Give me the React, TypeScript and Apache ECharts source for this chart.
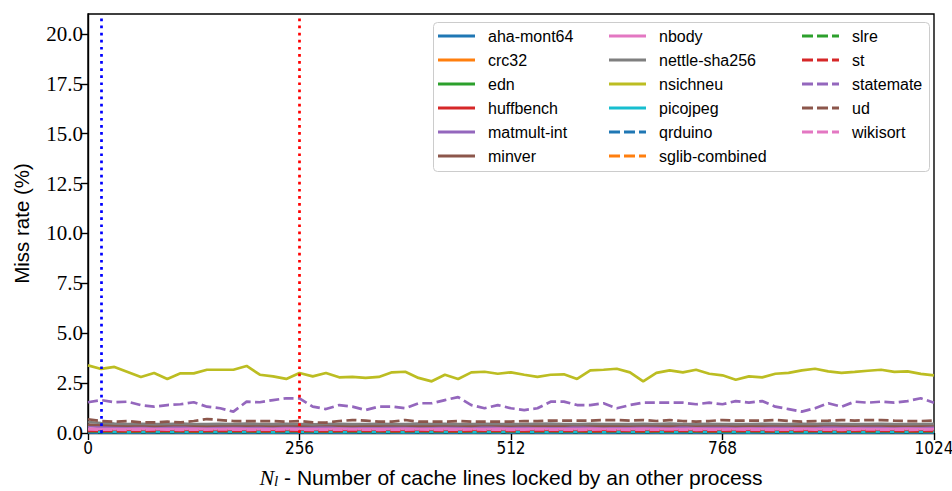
import React, { useEffect, useRef } from "react";
import * as echarts from "echarts";

// N_l values (x axis)
const nl = [
  0, 16, 32, 48, 64, 80, 96, 112, 128, 144, 160, 176, 192,
  208, 224, 240, 256, 272, 288, 304, 320, 336, 352, 368, 384, 400,
  416, 432, 448, 464, 480, 496, 512, 528, 544, 560, 576, 592, 608,
  624, 640, 656, 672, 688, 704, 720, 736, 752, 768, 784, 800, 816,
  832, 848, 864, 880, 896, 912, 928, 944, 960, 976, 992, 1008, 1024,
];

const ahaMont64 = [
  0.07, 0.06, 0.06, 0.05, 0.06, 0.06, 0.05, 0.06, 0.06, 0.07, 0.06, 0.05, 0.06,
  0.06, 0.05, 0.06, 0.06, 0.07, 0.06, 0.06, 0.05, 0.06, 0.06, 0.05, 0.06, 0.06,
  0.05, 0.06, 0.06, 0.07, 0.06, 0.05, 0.06, 0.06, 0.05, 0.06, 0.07, 0.06, 0.06,
  0.06, 0.06, 0.05, 0.06, 0.06, 0.07, 0.06, 0.05, 0.06, 0.06, 0.06, 0.05, 0.06,
  0.06, 0.07, 0.06, 0.06, 0.05, 0.06, 0.06, 0.06, 0.07, 0.06, 0.05, 0.06, 0.06,
];
const crc32 = [
  0.16, 0.15, 0.14, 0.15, 0.15, 0.14, 0.15, 0.16, 0.15, 0.14, 0.15, 0.15, 0.16,
  0.15, 0.14, 0.15, 0.15, 0.16, 0.15, 0.14, 0.15, 0.15, 0.14, 0.16, 0.15, 0.15,
  0.14, 0.15, 0.16, 0.15, 0.15, 0.14, 0.15, 0.15, 0.16, 0.15, 0.14, 0.15, 0.15,
  0.15, 0.16, 0.15, 0.14, 0.15, 0.15, 0.16, 0.15, 0.14, 0.15, 0.15, 0.16, 0.15,
  0.15, 0.14, 0.15, 0.16, 0.15, 0.15, 0.14, 0.15, 0.15, 0.16, 0.15, 0.14, 0.15,
];
const edn = [
  0.12, 0.11, 0.11, 0.10, 0.11, 0.12, 0.11, 0.10, 0.11, 0.11, 0.12, 0.11, 0.10,
  0.11, 0.11, 0.12, 0.11, 0.10, 0.11, 0.11, 0.12, 0.11, 0.10, 0.11, 0.11, 0.12,
  0.11, 0.10, 0.11, 0.12, 0.11, 0.11, 0.10, 0.11, 0.12, 0.11, 0.11, 0.10, 0.11,
  0.12, 0.11, 0.10, 0.11, 0.11, 0.12, 0.11, 0.10, 0.11, 0.11, 0.12, 0.11, 0.11,
  0.10, 0.11, 0.12, 0.11, 0.11, 0.10, 0.11, 0.12, 0.11, 0.11, 0.10, 0.11, 0.12,
];
const huffbench = [
  0.13, 0.12, 0.12, 0.11, 0.12, 0.13, 0.12, 0.12, 0.11, 0.12, 0.13, 0.12, 0.12,
  0.11, 0.12, 0.12, 0.13, 0.12, 0.11, 0.12, 0.12, 0.13, 0.12, 0.12, 0.11, 0.12,
  0.12, 0.13, 0.12, 0.12, 0.11, 0.12, 0.13, 0.12, 0.12, 0.11, 0.12, 0.12, 0.13,
  0.12, 0.11, 0.12, 0.13, 0.12, 0.12, 0.11, 0.12, 0.12, 0.13, 0.12, 0.11, 0.12,
  0.13, 0.12, 0.11, 0.12, 0.12, 0.13, 0.12, 0.12, 0.11, 0.12, 0.13, 0.12, 0.12,
];
const matmultInt = [
  0.34, 0.31, 0.30, 0.29, 0.31, 0.30, 0.28, 0.30, 0.31, 0.29, 0.30, 0.31, 0.29,
  0.30, 0.28, 0.31, 0.30, 0.29, 0.31, 0.30, 0.29, 0.28, 0.30, 0.31, 0.30, 0.29,
  0.31, 0.30, 0.29, 0.30, 0.31, 0.28, 0.30, 0.29, 0.31, 0.30, 0.29, 0.30, 0.31,
  0.29, 0.30, 0.31, 0.30, 0.28, 0.30, 0.29, 0.31, 0.30, 0.29, 0.30, 0.31, 0.30,
  0.29, 0.31, 0.30, 0.28, 0.30, 0.31, 0.29, 0.30, 0.31, 0.30, 0.29, 0.30, 0.31,
];
const minver = [
  0.42, 0.40, 0.38, 0.37, 0.39, 0.36, 0.38, 0.40, 0.37, 0.36, 0.38, 0.39, 0.37,
  0.38, 0.36, 0.39, 0.37, 0.38, 0.40, 0.37, 0.36, 0.38, 0.37, 0.39, 0.38, 0.36,
  0.37, 0.39, 0.38, 0.36, 0.40, 0.38, 0.37, 0.39, 0.36, 0.38, 0.37, 0.40, 0.38,
  0.36, 0.38, 0.37, 0.39, 0.38, 0.36, 0.40, 0.37, 0.38, 0.39, 0.36, 0.38, 0.37,
  0.39, 0.38, 0.36, 0.37, 0.40, 0.38, 0.37, 0.39, 0.38, 0.36, 0.38, 0.37, 0.39,
];
const nbody = [
  0.22, 0.20, 0.19, 0.20, 0.21, 0.19, 0.20, 0.20, 0.21, 0.19, 0.20, 0.21, 0.20,
  0.19, 0.20, 0.21, 0.20, 0.19, 0.20, 0.21, 0.20, 0.19, 0.20, 0.20, 0.21, 0.19,
  0.20, 0.21, 0.19, 0.20, 0.20, 0.21, 0.19, 0.20, 0.21, 0.20, 0.19, 0.20, 0.21,
  0.20, 0.19, 0.20, 0.21, 0.20, 0.19, 0.20, 0.21, 0.20, 0.20, 0.19, 0.21, 0.20,
  0.19, 0.20, 0.21, 0.20, 0.19, 0.20, 0.21, 0.20, 0.19, 0.20, 0.21, 0.20, 0.20,
];
const nettleSha256 = [
  0.55, 0.50, 0.47, 0.45, 0.46, 0.44, 0.45, 0.47, 0.45, 0.44, 0.46, 0.45, 0.47,
  0.45, 0.44, 0.46, 0.45, 0.43, 0.45, 0.46, 0.44, 0.45, 0.46, 0.45, 0.44, 0.47,
  0.45, 0.46, 0.44, 0.45, 0.46, 0.45, 0.44, 0.45, 0.46, 0.47, 0.45, 0.44, 0.46,
  0.45, 0.45, 0.44, 0.46, 0.45, 0.47, 0.45, 0.44, 0.46, 0.45, 0.44, 0.45, 0.46,
  0.45, 0.44, 0.46, 0.45, 0.47, 0.45, 0.44, 0.45, 0.46, 0.45, 0.44, 0.45, 0.46,
];
const nsichneu = [
  3.39, 3.21, 3.31, 3.06, 2.81, 3.01, 2.71, 2.99, 2.99, 3.17, 3.17, 3.17, 3.36,
  2.92, 2.84, 2.71, 3.01, 2.84, 3.01, 2.79, 2.81, 2.76, 2.81, 3.04, 3.07, 2.76,
  2.59, 2.92, 2.71, 3.04, 3.07, 2.97, 3.04, 2.92, 2.81, 2.92, 2.94, 2.71, 3.14,
  3.17, 3.22, 3.04, 2.59, 3.01, 3.14, 3.04, 3.17, 2.97, 2.89, 2.67, 2.84, 2.79,
  2.97, 3.01, 3.14, 3.22, 3.09, 3.01, 3.06, 3.12, 3.17, 3.06, 3.09, 2.96, 2.89,
];
const picojpeg = [
  0.05, 0.04, 0.04, 0.03, 0.04, 0.04, 0.05, 0.04, 0.03, 0.04, 0.04, 0.05, 0.04,
  0.04, 0.03, 0.04, 0.05, 0.04, 0.04, 0.03, 0.04, 0.04, 0.05, 0.04, 0.03, 0.04,
  0.04, 0.05, 0.04, 0.03, 0.04, 0.04, 0.05, 0.04, 0.04, 0.03, 0.04, 0.05, 0.04,
  0.03, 0.04, 0.04, 0.05, 0.04, 0.03, 0.04, 0.04, 0.05, 0.04, 0.04, 0.03, 0.04,
  0.05, 0.04, 0.03, 0.04, 0.04, 0.05, 0.04, 0.03, 0.04, 0.04, 0.05, 0.04, 0.04,
];
const qrduino = [
  0.03, 0.02, 0.03, 0.03, 0.02, 0.03, 0.03, 0.02, 0.03, 0.03, 0.02, 0.03, 0.03,
  0.02, 0.03, 0.03, 0.02, 0.03, 0.03, 0.02, 0.03, 0.03, 0.02, 0.03, 0.03, 0.02,
  0.03, 0.03, 0.02, 0.03, 0.03, 0.02, 0.03, 0.03, 0.02, 0.03, 0.03, 0.02, 0.03,
  0.03, 0.02, 0.03, 0.03, 0.02, 0.03, 0.03, 0.02, 0.03, 0.03, 0.02, 0.03, 0.03,
  0.02, 0.03, 0.03, 0.02, 0.03, 0.03, 0.02, 0.03, 0.03, 0.02, 0.03, 0.03, 0.02,
];
const sglibCombined = [
  0.14, 0.13, 0.13, 0.12, 0.13, 0.14, 0.13, 0.12, 0.13, 0.13, 0.14, 0.13, 0.12,
  0.13, 0.14, 0.13, 0.13, 0.12, 0.13, 0.14, 0.13, 0.13, 0.12, 0.13, 0.13, 0.14,
  0.13, 0.12, 0.13, 0.14, 0.13, 0.13, 0.12, 0.13, 0.14, 0.13, 0.12, 0.13, 0.13,
  0.14, 0.13, 0.12, 0.13, 0.13, 0.14, 0.13, 0.12, 0.13, 0.14, 0.13, 0.13, 0.12,
  0.13, 0.13, 0.14, 0.13, 0.12, 0.13, 0.13, 0.14, 0.13, 0.12, 0.13, 0.14, 0.13,
];
const slre = [
  0.09, 0.08, 0.08, 0.07, 0.08, 0.09, 0.08, 0.08, 0.07, 0.08, 0.09, 0.08, 0.08,
  0.07, 0.08, 0.09, 0.08, 0.08, 0.07, 0.08, 0.09, 0.08, 0.08, 0.07, 0.08, 0.09,
  0.08, 0.08, 0.07, 0.08, 0.09, 0.08, 0.08, 0.07, 0.08, 0.09, 0.08, 0.08, 0.07,
  0.08, 0.09, 0.08, 0.07, 0.08, 0.08, 0.09, 0.08, 0.07, 0.08, 0.08, 0.09, 0.08,
  0.07, 0.08, 0.08, 0.09, 0.08, 0.07, 0.08, 0.08, 0.09, 0.08, 0.07, 0.08, 0.08,
];
const st = [
  0.11, 0.10, 0.10, 0.09, 0.10, 0.11, 0.10, 0.10, 0.09, 0.10, 0.11, 0.10, 0.10,
  0.09, 0.10, 0.11, 0.10, 0.10, 0.09, 0.10, 0.11, 0.10, 0.10, 0.09, 0.10, 0.11,
  0.10, 0.10, 0.09, 0.10, 0.11, 0.10, 0.10, 0.09, 0.10, 0.11, 0.10, 0.10, 0.09,
  0.10, 0.11, 0.10, 0.09, 0.10, 0.10, 0.11, 0.10, 0.09, 0.10, 0.10, 0.11, 0.10,
  0.09, 0.10, 0.10, 0.11, 0.10, 0.09, 0.10, 0.10, 0.11, 0.10, 0.09, 0.10, 0.10,
];
const statemate = [
  1.54, 1.65, 1.54, 1.57, 1.40, 1.32, 1.40, 1.44, 1.54, 1.32, 1.24, 1.07, 1.57,
  1.54, 1.65, 1.74, 1.74, 1.32, 1.20, 1.40, 1.32, 1.15, 1.32, 1.32, 1.24, 1.49,
  1.49, 1.65, 1.80, 1.40, 1.24, 1.40, 1.24, 1.15, 1.24, 1.57, 1.57, 1.40, 1.40,
  1.49, 1.24, 1.40, 1.52, 1.52, 1.52, 1.52, 1.44, 1.52, 1.44, 1.60, 1.52, 1.60,
  1.32, 1.20, 1.07, 1.24, 1.49, 1.32, 1.57, 1.52, 1.57, 1.52, 1.60, 1.74, 1.52,
];
const ud = [
  0.69, 0.60, 0.57, 0.60, 0.53, 0.53, 0.57, 0.53, 0.60, 0.70, 0.65, 0.60, 0.60,
  0.60, 0.60, 0.57, 0.60, 0.53, 0.52, 0.60, 0.65, 0.62, 0.57, 0.57, 0.65, 0.57,
  0.57, 0.57, 0.60, 0.57, 0.57, 0.57, 0.57, 0.60, 0.60, 0.62, 0.62, 0.62, 0.62,
  0.65, 0.65, 0.62, 0.65, 0.60, 0.65, 0.60, 0.57, 0.60, 0.65, 0.62, 0.62, 0.62,
  0.65, 0.60, 0.57, 0.60, 0.62, 0.65, 0.62, 0.65, 0.65, 0.62, 0.60, 0.60, 0.62,
];
const wikisort = [
  0.18, 0.17, 0.17, 0.16, 0.17, 0.18, 0.17, 0.16, 0.17, 0.17, 0.18, 0.17, 0.16,
  0.17, 0.17, 0.18, 0.17, 0.16, 0.17, 0.17, 0.18, 0.17, 0.16, 0.17, 0.17, 0.18,
  0.17, 0.16, 0.17, 0.18, 0.17, 0.17, 0.16, 0.17, 0.18, 0.17, 0.17, 0.16, 0.17,
  0.18, 0.17, 0.16, 0.17, 0.17, 0.18, 0.17, 0.16, 0.17, 0.17, 0.18, 0.17, 0.17,
  0.16, 0.17, 0.18, 0.17, 0.17, 0.16, 0.17, 0.18, 0.17, 0.17, 0.16, 0.17, 0.18,
];

const yTicks = [0, 2.5, 5, 7.5, 10, 12.5, 15, 17.5, 20];
const lockedMarkers = [16, 256];

const benchmarks = [
  { name: "aha-mont64", data: ahaMont64, color: "#1f77b4", dashed: false },
  { name: "crc32", data: crc32, color: "#ff7f0e", dashed: false },
  { name: "edn", data: edn, color: "#2ca02c", dashed: false },
  { name: "huffbench", data: huffbench, color: "#d62728", dashed: false },
  { name: "matmult-int", data: matmultInt, color: "#9467bd", dashed: false },
  { name: "minver", data: minver, color: "#8c564b", dashed: false },
  { name: "nbody", data: nbody, color: "#e377c2", dashed: false },
  { name: "nettle-sha256", data: nettleSha256, color: "#7f7f7f", dashed: false },
  { name: "nsichneu", data: nsichneu, color: "#bcbd22", dashed: false },
  { name: "picojpeg", data: picojpeg, color: "#17becf", dashed: false },
  { name: "qrduino", data: qrduino, color: "#1f77b4", dashed: true },
  { name: "sglib-combined", data: sglibCombined, color: "#ff7f0e", dashed: true },
  { name: "slre", data: slre, color: "#2ca02c", dashed: true },
  { name: "st", data: st, color: "#d62728", dashed: true },
  { name: "statemate", data: statemate, color: "#9467bd", dashed: true },
  { name: "ud", data: ud, color: "#8c564b", dashed: true },
  { name: "wikisort", data: wikisort, color: "#e377c2", dashed: true },
];

const SOLID_ICON = "path://M0,0h37v3h-37z";
const DASHED_ICON = "path://M0,0h11v3h-11z M15,0h11v3h-11z M30,0h7v3h-7z";

export default function App() {
  const ref = useRef<HTMLDivElement>(null);

  useEffect(() => {
    const chart = echarts.init(ref.current!, null, { renderer: "svg" });
    const last = benchmarks.length - 1;
    const series: any[] = benchmarks.map((b, i) => ({
      type: "line",
      name: b.name,
      data: nl.map((x, k) => [x, b.data[k]]),
      symbol: "none",
      showSymbol: false,
      color: b.color,
      itemStyle: { color: b.color },
      lineStyle: { color: b.color, width: 2.7, type: b.dashed ? [10, 4.4] : "solid" },
      emphasis: { disabled: true },
      silent: true,
      markLine:
        i === last
          ? {
              silent: true,
              symbol: ["none", "none"],
              label: { show: false },
              data: [
                { xAxis: lockedMarkers[0], lineStyle: { color: "#0000ff", width: 2.7, type: [2.7, 4.4] } },
                { xAxis: lockedMarkers[1], lineStyle: { color: "#ff0000", width: 2.7, type: [2.7, 4.4] } },
              ],
            }
          : undefined,
    }));

    const legendItems = benchmarks.map((b) => ({
      name: b.name,
      icon: b.dashed ? DASHED_ICON : SOLID_ICON,
      itemStyle: { color: b.color },
    }));
    const legendCommon = {
      orient: "vertical",
      top: 28,
      itemWidth: 37,
      itemHeight: 14,
      itemGap: 8,
      padding: 0,
      selectedMode: false,
      symbolKeepAspect: true,
      textStyle: {
        fontFamily: "Liberation Sans",
        fontSize: 16,
        color: "#000",
        lineHeight: 16,
        padding: [0, 0, 0, 8],
      },
    };

    chart.setOption({
      animation: false,
      backgroundColor: "#fff",
      grid: {
        left: 88,
        right: 18,
        top: 14,
        bottom: 58,
        show: true,
        borderColor: "#000",
        borderWidth: 1.4,
        containLabel: false,
        outerBoundsMode: "none",
      },
      xAxis: {
        type: "value",
        min: 0,
        max: 1024,
        interval: 256,
        name: "{n|N}{s|l}{t| - Number of cache lines locked by an other process}",
        nameLocation: "middle",
        nameGap: 34,
        nameTextStyle: {
          rich: {
            n: { fontFamily: "Liberation Serif", fontStyle: "italic", fontSize: 22, lineHeight: 21, color: "#000" },
            s: { fontFamily: "Liberation Serif", fontStyle: "italic", fontSize: 15, lineHeight: 13, verticalAlign: "bottom", color: "#000" },
            t: { fontFamily: "Liberation Sans", fontSize: 21, lineHeight: 21, color: "#000" },
          },
        },
        axisLine: { show: true, lineStyle: { color: "#000", width: 1.4 } },
        axisTick: { show: true, length: 7, inside: false, lineStyle: { color: "#000", width: 1.4 } },
        axisLabel: {
          margin: 6,
          fontFamily: "Liberation Sans Narrow, DejaVu Sans Condensed, sans-serif",
          fontSize: 17,
          color: "#000",
          formatter: (v: number) => String(v),
        },
        splitLine: { show: false },
      },
      yAxis: {
        type: "value",
        min: 0,
        max: 21,
        name: "Miss rate (%)",
        nameLocation: "middle",
        nameRotate: 90,
        nameGap: 56,
        nameTextStyle: { fontFamily: "Liberation Sans", fontSize: 20.5, color: "#000" },
        axisLine: { show: true, lineStyle: { color: "#000", width: 1.4 } },
        axisTick: { show: true, length: 7, inside: false, customValues: yTicks, lineStyle: { color: "#000", width: 1.4 } },
        axisLabel: {
          customValues: yTicks,
          margin: 5,
          fontFamily: "Liberation Serif",
          fontSize: 21,
          color: "#000",
          formatter: (v: number) => v.toFixed(1),
        },
        splitLine: { show: false },
      },
      legend: [
        { ...legendCommon, left: 438, data: legendItems.slice(0, 6) },
        { ...legendCommon, left: 609, data: legendItems.slice(6, 12) },
        { ...legendCommon, left: 802, data: legendItems.slice(12) },
      ],
      graphic: [
        {
          type: "rect",
          z: 3,
          shape: { x: 433.5, y: 22.5, width: 496, height: 149, r: 4 },
          style: { fill: "rgba(255,255,255,0.8)", stroke: "#cccccc", lineWidth: 1 },
          silent: true,
        },
      ],
      series,
    });

    return () => chart.dispose();
  }, []);

  return (
    <div
      ref={ref}
      style={{ position: "fixed", left: 0, top: 0, width: 952, height: 491 }}
    />
  );
}
